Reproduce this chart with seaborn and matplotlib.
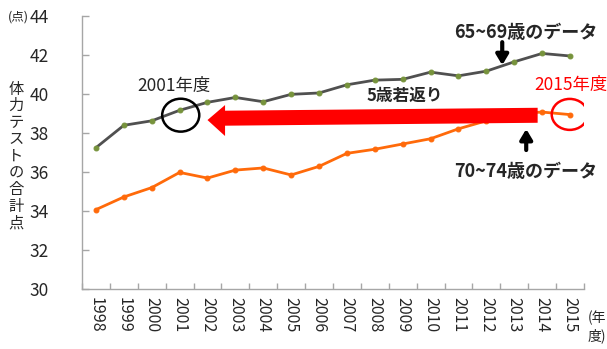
import matplotlib
matplotlib.use("Agg")
import matplotlib.pyplot as plt
from matplotlib.patches import Ellipse, Polygon
import numpy as np
import pandas as pd
import seaborn as sns

# Fiscal years and total physical-fitness test scores by age group
years = [1998, 1999, 2000, 2001, 2002, 2003, 2004, 2005, 2006,
         2007, 2008, 2009, 2010, 2011, 2012, 2013, 2014, 2015]
score_65_69 = [37.24, 38.39, 38.62, 39.16, 39.57, 39.82, 39.60, 39.98, 40.05,
               40.47, 40.71, 40.75, 41.12, 40.93, 41.17, 41.65, 42.08, 41.95]
score_70_74 = [34.06, 34.71, 35.19, 35.97, 35.68, 36.09, 36.20, 35.84, 36.28,
               36.95, 37.16, 37.43, 37.70, 38.21, 38.62, 38.98, 39.07, 38.94]
y_ticks = [30, 32, 34, 36, 38, 40, 42, 44]

sns.set_theme(style="white")
plt.rcParams["font.family"] = ["Noto Sans CJK JP", "DejaVu Sans"]

df = pd.DataFrame({
    "year": years * 2,
    "score": score_65_69 + score_70_74,
    "group": ["65~69"] * len(years) + ["70~74"] * len(years),
})

fig = plt.figure(figsize=(6.07, 3.49), dpi=100)
ax = fig.add_axes([0.1351, 0.1728, 0.962 - 0.1351, 0.954 - 0.1728])

sns.lineplot(data=df[df.group == "65~69"], x="year", y="score", ax=ax,
             color="#505050", linewidth=2.0, marker="o", markersize=3.5,
             markerfacecolor="#77933C", markeredgecolor="#77933C", legend=False)
sns.lineplot(data=df[df.group == "70~74"], x="year", y="score", ax=ax,
             color="#FF6A0A", linewidth=2.0, marker="o", markersize=3.5,
             markerfacecolor="#FF6A0A", markeredgecolor="#FF6A0A", legend=False)

ax.set_xlim(years[0] - 0.5, years[-1] + 0.5)
ax.set_ylim(30, 44)
ax.set_yticks(y_ticks)
ax.set_yticklabels([str(v) for v in y_ticks], fontsize=12.5)
ax.set_xticks(years)
ax.set_xticklabels([str(y) for y in years], rotation=270, fontsize=11.5)
ax.set_xticks(np.arange(years[0] - 0.5, years[-1] + 1.0, 1.0), minor=True)
ax.tick_params(axis="x", which="major", length=0, pad=6)
ax.tick_params(axis="x", which="minor", direction="in", length=4,
               color="#a6a6a6", width=1, bottom=True)
ax.tick_params(axis="y", direction="in", length=5, color="#a6a6a6",
               width=1, left=True, pad=24)
ax.set_xlabel("")
ax.set_ylabel("")
for side in ("top", "right"):
    ax.spines[side].set_visible(False)
for side in ("left", "bottom"):
    ax.spines[side].set_color("#a6a6a6")
    ax.spines[side].set_linewidth(1)

# Axis captions
fig.text(8 / 607, 1 - 17 / 349, "(点)", fontsize=9, va="center", ha="left")
fig.text(16 / 607, 1 - 156 / 349, "\n".join("体力テストの合計点"), fontsize=11,
         va="center", ha="center", linespacing=0.98)
fig.text(588 / 607, 1 - 327 / 349, "(年\n度)", fontsize=10, va="center",
         ha="left", linespacing=1.3)

# Big red arrow: 2015 back to 2001
arrow = Polygon([[2013.84, 38.52], [2002.63, 38.37], [2002.63, 37.84],
                 [2002.0, 38.66], [2002.63, 39.43], [2002.63, 39.14],
                 [2013.84, 39.29]], closed=True, facecolor="#FF0000",
                edgecolor="none", zorder=5)
ax.add_patch(arrow)
ax.text(2009.07, 39.9, "5歳若返り", fontsize=12, fontweight="bold",
        ha="center", va="center", zorder=6)

# Circled reference points
ax.add_patch(Ellipse((2001.04, 38.91), 1.33, 1.69, fill=False,
                     edgecolor="black", linewidth=1.8, zorder=6))
ax.text(2000.8, 40.4, "2001年度", fontsize=12.5, ha="center", va="center")
ax.add_patch(Ellipse((2014.99, 38.95), 1.29, 1.59, fill=False,
                     edgecolor="#FF0000", linewidth=1.8, zorder=6))
ax.text(2015.03, 40.45, "2015年度", fontsize=12.5, ha="center", va="center",
        color="#FF0000", clip_on=False)

# Series labels with pointer arrows
pointer = dict(arrowstyle="-|>,head_width=0.3,head_length=0.5",
               color="black", lw=3.0, shrinkA=0, shrinkB=0)
ax.text(2013.4, 43.18, "65~69歳のデータ", fontsize=13, fontweight="bold",
        ha="center", va="center", clip_on=False)
ax.annotate("", xy=(2012.57, 41.48), xytext=(2012.57, 42.66),
            arrowprops=pointer)
ax.text(2013.41, 36.04, "70~74歳のデータ", fontsize=13, fontweight="bold",
        ha="center", va="center", clip_on=False)
ax.annotate("", xy=(2013.43, 38.2), xytext=(2013.43, 37.12),
            arrowprops=pointer)

fig.savefig("out.png", dpi=100)
